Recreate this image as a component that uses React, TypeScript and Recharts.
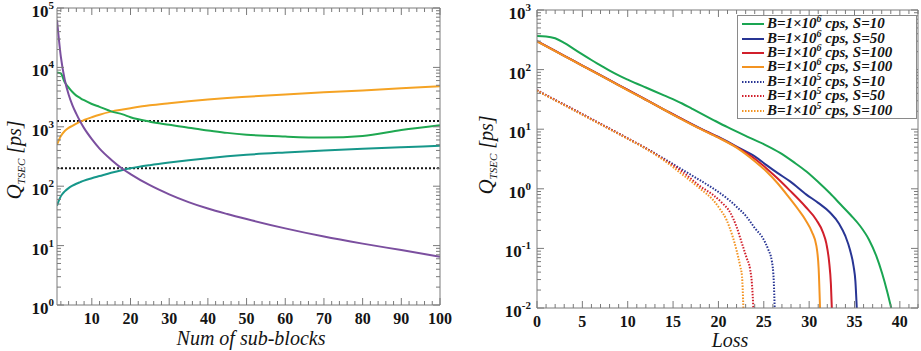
import React from 'react';
import { LineChart, Line, XAxis, YAxis, ReferenceLine, Legend } from 'recharts';

// ---------------- Left panel data ----------------
const subBlocks = [1, 2, 3, 4, 5, 6, 7, 8, 10, 12, 15, 18, 20, 25, 30, 35, 40, 45, 50, 60, 70, 80, 90, 100];
const qGreenL = [8200, 7900, 5600, 4600, 3850, 3350, 3050, 2800, 2420, 2170, 1820, 1620, 1450, 1220, 1080, 960, 870, 790, 735, 685, 660, 700, 880, 1060];
const qOrangeL = [500, 700, 850, 960, 1040, 1130, 1220, 1300, 1450, 1600, 1800, 1950, 2050, 2300, 2500, 2700, 2880, 3050, 3200, 3500, 3800, 4100, 4450, 4800];
const qTealL = [47, 68, 82, 93, 102, 110, 117, 124, 136, 148, 168, 188, 200, 226, 250, 273, 296, 318, 338, 370, 400, 427, 452, 478];
const qPurpleL = [63000, 15000, 6200, 3500, 2300, 1650, 1230, 950, 620, 430, 280, 195, 160, 104, 73, 54, 42, 34, 28, 19.5, 14.2, 10.8, 8.4, 6.5];
const thresholds = [1250, 200];

// ---------------- Right panel data ----------------
const lossG10 = [0, 1, 2, 3, 4, 5, 6, 7, 8, 9, 10, 12, 14, 16, 17.1, 19.4, 21, 23.1, 25, 26.8, 28.3, 29.7, 31, 32.3, 33.5, 34.6, 35.6, 36.6, 37.4, 38.05, 38.6, 39.05];
const qG10 = [365, 360, 335, 280, 225, 180, 145, 118, 96, 80, 68, 50, 37, 27, 22, 14.4, 10.8, 7.6, 5.6, 4.0, 2.8, 1.95, 1.3, 0.84, 0.54, 0.36, 0.24, 0.14, 0.075, 0.038, 0.019, 0.01];

const lossB50 = [0, 2, 4, 6, 8, 10, 12, 14, 16, 18, 20, 22, 24, 25.3, 26.5, 27.9, 29.7, 31, 32.3, 33.3, 34, 34.5, 34.9, 35.1, 35.25];
const qB50 = [300, 206, 141, 97, 66.5, 45.5, 31.2, 21.4, 14.7, 10.3, 7.4, 5.1, 3.5, 2.5, 1.85, 1.33, 0.8, 0.58, 0.4, 0.26, 0.16, 0.095, 0.05, 0.028, 0.01];

const lossR100 = [0, 2, 4, 6, 8, 10, 12, 14, 16, 18, 20, 22, 24, 25.3, 26.5, 27.8, 29.6, 30.8, 31.5, 31.9, 32.2, 32.4, 32.5];
const qR100 = [300, 206, 141, 97, 66.5, 45.5, 31.2, 21.4, 14.7, 10.2, 7.3, 5.0, 3.2, 2.2, 1.5, 0.96, 0.5, 0.3, 0.19, 0.12, 0.06, 0.025, 0.01];

const lossO100 = [0, 2, 4, 6, 8, 10, 12, 14, 16, 18, 20, 22, 24, 25.3, 26.5, 27.8, 28.8, 29.6, 30.3, 30.8, 31.05, 31.2];
const qO100 = [298, 204, 140, 96, 66, 45, 31, 21.2, 14.5, 10.1, 7.2, 4.9, 2.9, 1.95, 1.25, 0.71, 0.45, 0.3, 0.19, 0.11, 0.045, 0.01];

const lossB10d = [0, 2, 4, 6, 8, 10, 12, 14, 16, 18, 19.4, 21, 22, 23.1, 24, 25, 25.5, 25.9, 26.1, 26.2];
const qB10d = [45, 31, 21.5, 14.8, 10.2, 7.0, 4.8, 3.2, 2.1, 1.38, 1.02, 0.68, 0.5, 0.34, 0.22, 0.14, 0.095, 0.06, 0.028, 0.01];

const lossR50d = [0, 2, 4, 6, 8, 10, 12, 14, 16, 18, 19.4, 20.4, 21.3, 22, 22.6, 23.1, 23.5, 23.7, 23.85];
const qR50d = [45, 31, 21.5, 14.8, 10.2, 7.0, 4.8, 3.1, 1.95, 1.1, 0.79, 0.58, 0.4, 0.23, 0.12, 0.07, 0.044, 0.025, 0.01];

const lossO100d = [0, 2, 4, 6, 8, 10, 12, 14, 16, 18, 19.4, 20.2, 20.9, 21.5, 22, 22.4, 22.6, 22.75];
const qO100d = [44, 30.5, 21, 14.5, 10, 6.9, 4.7, 3.0, 1.75, 1.0, 0.65, 0.45, 0.3, 0.17, 0.093, 0.05, 0.034, 0.01];

const legendExp = [6, 6, 6, 6, 5, 5, 5];
const legendS = [10, 50, 100, 100, 10, 50, 100];

const leftXMajor = [10, 20, 30, 40, 50, 60, 70, 80, 90, 100];
const rightXMajor = [0, 5, 10, 15, 20, 25, 30, 35, 40];

// ---------------- styling ----------------
const FONT = "'Liberation Serif', 'Times New Roman', serif";
const FRAME = '#7a7a7a';
const INK = '#141414';

const C_GREEN_L = '#1fa851';
const C_ORANGE_L = '#f5a324';
const C_TEAL_L = '#16978a';
const C_PURPLE_L = '#7b4f9f';
const C_GREEN = '#1aa552';
const C_BLUE = '#283594';
const C_RED = '#d11f2b';
const C_ORANGE = '#f39321';

const range = (a: number, b: number, step: number) => {
  const r: number[] = [];
  for (let v = a; v <= b + 1e-9; v += step) r.push(Math.round(v * 1000) / 1000);
  return r;
};
const logTicks = (lo: number, hi: number) => {
  const r: number[] = [];
  for (let e = lo; e < hi; e++) for (let m = 1; m <= 9; m++) r.push(e < 0 ? m / Math.pow(10, -e) : m * Math.pow(10, e));
  r.push(Math.pow(10, hi));
  return r;
};
const isDecade = (v: number) => {
  const l = Math.log10(v);
  return Math.abs(l - Math.round(l)) < 1e-6;
};

const leftXTicks = range(2, 100, 2);
const rightXTicks = range(0, 42, 1);
const leftYTicks = logTicks(0, 5);
const rightYTicks = logTicks(-2, 3);

type Side = 'bottom' | 'top' | 'left' | 'right';

function makeTick(side: Side, isMajor: (v: number) => boolean, label?: (x: number, y: number, v: number) => React.ReactNode) {
  return (p: any) => {
    const x = p.x as number;
    const y = p.y as number;
    const v = p.payload.value as number;
    const major = isMajor(v);
    const len = major ? 7 : 4;
    let x2 = x;
    let y2 = y;
    if (side === 'bottom') y2 = y - len;
    else if (side === 'top') y2 = y + len;
    else if (side === 'left') x2 = x + len;
    else x2 = x - len;
    return (
      <g>
        <line x1={x} y1={y} x2={x2} y2={y2} stroke={FRAME} strokeWidth={1} />
        {major && label ? label(x, y, v) : null}
      </g>
    );
  };
}

const xLabel = (x: number, y: number, v: number) => (
  <text x={x} y={y + 19} textAnchor="middle" fontFamily={FONT} fontWeight="bold" fontSize={16} fill={INK}>
    {v}
  </text>
);

const yLogLabel = (gap: number) => (x: number, y: number, v: number) => (
  <text x={x - gap} y={y + 9} textAnchor="end" fontFamily={FONT} fontWeight="bold" fontSize={17} fill={INK}>
    <tspan>10</tspan>
    <tspan dy={-8} fontSize={11}>{String(Math.round(Math.log10(v)))}</tspan>
  </text>
);

const YTitle = (props: any) => {
  const { cx, cy } = props;
  return (
    <text transform={`rotate(-90 ${cx} ${cy})`} x={cx} y={cy} textAnchor="middle" fontFamily={FONT} fontStyle="italic" fill={INK}>
      <tspan fontSize={21}>Q</tspan>
      <tspan fontSize={11} dy={4}>TSEC</tspan>
      <tspan fontSize={20} dy={-4} dx={5}>[ps]</tspan>
    </text>
  );
};

const XTitle = (props: any) => {
  const { cx, cy, text } = props;
  return (
    <text x={cx} y={cy} textAnchor="middle" fontFamily={FONT} fontStyle="italic" fontSize={20} fill={INK}>
      {text}
    </text>
  );
};

const axisCommon = {
  interval: 0 as const,
  tickSize: 0,
  tickMargin: 0,
  tickLine: false,
  axisLine: { stroke: FRAME, strokeWidth: 1 },
  allowDataOverflow: true,
};

function LeftPanel() {
  const data = subBlocks.map((n, i) => ({ n, g: qGreenL[i], o: qOrangeL[i], t: qTealL[i], p: qPurpleL[i] }));
  const isMajorX = (v: number) => leftXMajor.includes(v);
  return (
    <div style={{ position: 'absolute', left: 0, top: 0 }}>
      <LineChart width={460} height={351} data={data} margin={{ top: 7, right: 19, bottom: 45, left: 56 }}>
        <XAxis
          xAxisId="b" dataKey="n" type="number" domain={[1, 100]} ticks={leftXTicks} height={1} {...axisCommon}
          tick={makeTick('bottom', isMajorX, xLabel)}
          label={<XTitle cx={251} cy={345} text="Num of sub-blocks" />}
        />
        <XAxis
          xAxisId="t" orientation="top" dataKey="n" type="number" domain={[1, 100]} ticks={leftXTicks} height={1} {...axisCommon}
          tick={makeTick('top', isMajorX)}
        />
        <YAxis
          yAxisId="l" type="number" scale="log" domain={[1, 100000]} ticks={leftYTicks} width={1} {...axisCommon}
          tick={makeTick('left', isDecade, yLogLabel(3))}
          label={<YTitle cx={21} cy={160} />}
        />
        <YAxis
          yAxisId="r" orientation="right" type="number" scale="log" domain={[1, 100000]} ticks={leftYTicks} width={1} {...axisCommon}
          tick={makeTick('right', isDecade)}
        />
        {thresholds.map((v) => (
          <ReferenceLine key={v} xAxisId="b" yAxisId="l" y={v} stroke={INK} strokeWidth={2} strokeDasharray="2 2" />
        ))}
        <Line xAxisId="b" yAxisId="l" type="monotone" dataKey="o" stroke={C_ORANGE_L} strokeWidth={2} dot={false} isAnimationActive={false} />
        <Line xAxisId="b" yAxisId="l" type="monotone" dataKey="t" stroke={C_TEAL_L} strokeWidth={2} dot={false} isAnimationActive={false} />
        <Line xAxisId="b" yAxisId="l" type="monotone" dataKey="g" stroke={C_GREEN_L} strokeWidth={2} dot={false} isAnimationActive={false} />
        <Line xAxisId="b" yAxisId="l" type="monotone" dataKey="p" stroke={C_PURPLE_L} strokeWidth={2} dot={false} isAnimationActive={false} />
      </LineChart>
    </div>
  );
}

const zip = (xs: number[], ys: number[]) => xs.map((loss, i) => ({ loss, q: ys[i] }));

const rightSeries = [
  { id: 'g10', rows: zip(lossG10, qG10), color: C_GREEN, dashed: false },
  { id: 'b50', rows: zip(lossB50, qB50), color: C_BLUE, dashed: false },
  { id: 'r100', rows: zip(lossR100, qR100), color: C_RED, dashed: false },
  { id: 'o100', rows: zip(lossO100, qO100), color: C_ORANGE, dashed: false },
  { id: 'b10d', rows: zip(lossB10d, qB10d), color: C_BLUE, dashed: true },
  { id: 'r50d', rows: zip(lossR50d, qR50d), color: C_RED, dashed: true },
  { id: 'o100d', rows: zip(lossO100d, qO100d), color: C_ORANGE, dashed: true },
];

function LegendBox() {
  return (
    <div
      style={{
        boxSizing: 'border-box', width: 180, height: 104, border: '1px solid #8a8a8a', background: '#fff',
        padding: '1px 0 0 4px', fontFamily: FONT, fontStyle: 'italic', fontWeight: 'bold', fontSize: 15, color: INK,
      }}
    >
      {rightSeries.map((s, i) => (
        <div key={s.id} style={{ display: 'flex', alignItems: 'center', height: 14.4, whiteSpace: 'nowrap' }}>
          <svg width={22} height={6} style={{ marginRight: 3, flex: 'none' }}>
            <line x1={0} x2={22} y1={3} y2={3} stroke={s.color} strokeWidth={2} strokeDasharray={s.dashed ? '1.5 1.5' : undefined} />
          </svg>
          <span style={{ lineHeight: '14px' }}>
            B=1×10<span style={{ fontSize: 10, position: 'relative', top: -6 }}>{legendExp[i]}</span> cps, S={legendS[i]}
          </span>
        </div>
      ))}
    </div>
  );
}

function RightPanel() {
  const isMajorX = (v: number) => rightXMajor.includes(v);
  return (
    <div style={{ position: 'absolute', left: 470, top: 0 }}>
      <LineChart width={451} height={351} margin={{ top: 9, right: 2, bottom: 42, left: 66 }}>
        <XAxis
          xAxisId="b" dataKey="loss" type="number" domain={[0, 42]} ticks={rightXTicks} height={1} {...axisCommon}
          tick={makeTick('bottom', isMajorX, xLabel)}
          label={<XTitle cx={260} cy={347} text="Loss" />}
        />
        <XAxis
          xAxisId="t" orientation="top" dataKey="loss" type="number" domain={[0, 42]} ticks={rightXTicks} height={1} {...axisCommon}
          tick={makeTick('top', isMajorX)}
        />
        <YAxis
          yAxisId="l" type="number" scale="log" domain={[0.01, 1000]} ticks={rightYTicks} width={1} {...axisCommon}
          tick={makeTick('left', isDecade, yLogLabel(6))}
          label={<YTitle cx={23} cy={155} />}
        />
        <YAxis
          yAxisId="r" orientation="right" type="number" scale="log" domain={[0.01, 1000]} ticks={rightYTicks} width={1} {...axisCommon}
          tick={makeTick('right', isDecade)}
        />
        {rightSeries.map((s) => (
          <Line
            key={s.id} xAxisId="b" yAxisId="l" data={s.rows} dataKey="q" type="monotone" stroke={s.color}
            strokeWidth={2} strokeDasharray={s.dashed ? '1.5 1.5' : undefined} dot={false} isAnimationActive={false}
          />
        ))}
        <Legend
          layout="vertical" align="center" verticalAlign="middle"
          wrapperStyle={{ left: 267, top: 15, width: 180, height: 104 }}
          content={() => <LegendBox />}
        />
      </LineChart>
    </div>
  );
}

export default function App() {
  return (
    <div style={{ position: 'absolute', left: 0, top: 0, width: 921, height: 351, background: '#fff', overflow: 'hidden' }}>
      <LeftPanel />
      <RightPanel />
    </div>
  );
}
